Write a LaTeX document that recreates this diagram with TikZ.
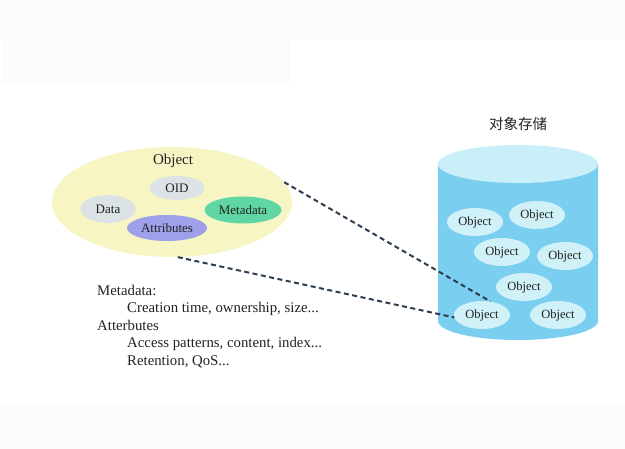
\documentclass[tikz,border=0pt]{standalone}
\usepackage{fontspec}
\setmainfont{Liberation Serif}
\newfontfamily\cjk{Noto Sans CJK SC}
\usepackage{tikz}
\usepackage{xcolor}
\usetikzlibrary{shapes.geometric}

\definecolor{bandpink}{HTML}{FDFBFC}
\definecolor{bandgray}{HTML}{FCFCFC}
\definecolor{objyellow}{HTML}{F7F5C4}
\definecolor{partgray}{HTML}{DCE3E6}
\definecolor{partgreen}{HTML}{5FD6A4}
\definecolor{partviolet}{HTML}{9EA1EA}
\definecolor{storeblue}{HTML}{7ACEEF}
\definecolor{storetop}{HTML}{C9EFF8}
\definecolor{objcyan}{HTML}{D0F1F8}
\definecolor{linkblue}{HTML}{2D3E50}
\definecolor{inktext}{HTML}{222222}

\tikzset{
    part/.style={ellipse, inner sep=0pt, text=inktext, font=\fontsize{13}{13}\selectfont},
    smallobj/.style={ellipse, fill=objcyan, minimum width=56pt, minimum height=28pt,
        inner sep=0pt, text=inktext, font=\fontsize{12.5}{12.5}\selectfont},
    link/.style={draw=linkblue, line width=2pt, dash pattern=on 5pt off 3.5pt}
}

\begin{document}
\begin{tikzpicture}[x=1pt,y=-1pt]
    \useasboundingbox (0,0) rectangle (625,449);
    % faint background bands
    \fill[bandpink] (0,0) rectangle (625,40);
    \fill[bandgray] (2,40) rectangle (290,85);
    \fill[bandpink] (0,405) rectangle (625,449);

    % Object with its parts
    \node[ellipse, fill=objyellow, minimum width=240pt, minimum height=110pt] (obj) at (172,202) {};
    \node[text=inktext, font=\fontsize{15}{15}\selectfont] (objlabel) at (173,161) {Object};
    \node[part, fill=partgray, minimum width=55pt, minimum height=24pt] (oid) at (177,188) {OID};
    \node[part, fill=partgray, minimum width=55pt, minimum height=28pt] (data) at (108,209) {Data};
    \node[part, fill=partgreen, minimum width=77pt, minimum height=27pt] (meta) at (243,210) {Metadata};
    \node[part, fill=partviolet, minimum width=80pt, minimum height=26pt] (attr) at (167,228) {Attributes};

    % notes under the object
    \node[anchor=north west, align=left, inner sep=0pt, text=inktext,
          font=\fontsize{14.8}{17.5}\selectfont] (notes) at (97,285)
        {Metadata:\\
         \hspace*{30pt}Creation time, ownership, size...\\
         Atterbutes\\
         \hspace*{30pt}Access patterns, content, index...\\
         \hspace*{30pt}Retention, QoS...};

    % Object storage cylinder
    \fill[storeblue] (438,164) -- (438,321)
        arc[start angle=180, end angle=0, x radius=80, y radius=19] -- (598,164) -- cycle;
    \fill[storetop] (518,164) ellipse[x radius=80, y radius=19];
    \node[text=inktext, font=\fontsize{14.5}{14.5}\selectfont] (store) at (518,124) {\cjk 对象存储};

    % objects in the store
    \foreach \n/\x/\y in {o1/475/222, o2/537/215, o3/502/252, o4/565/256,
                          o5/524/287, o6/482/315, o7/558/315}
        \node[smallobj] (\n) at (\x,\y) {Object};

    % dashed links
    \draw[link] (obj.10) -- (o6.58);
    \draw[link] (obj.-84) -- (o6.185);
\end{tikzpicture}
\end{document}
